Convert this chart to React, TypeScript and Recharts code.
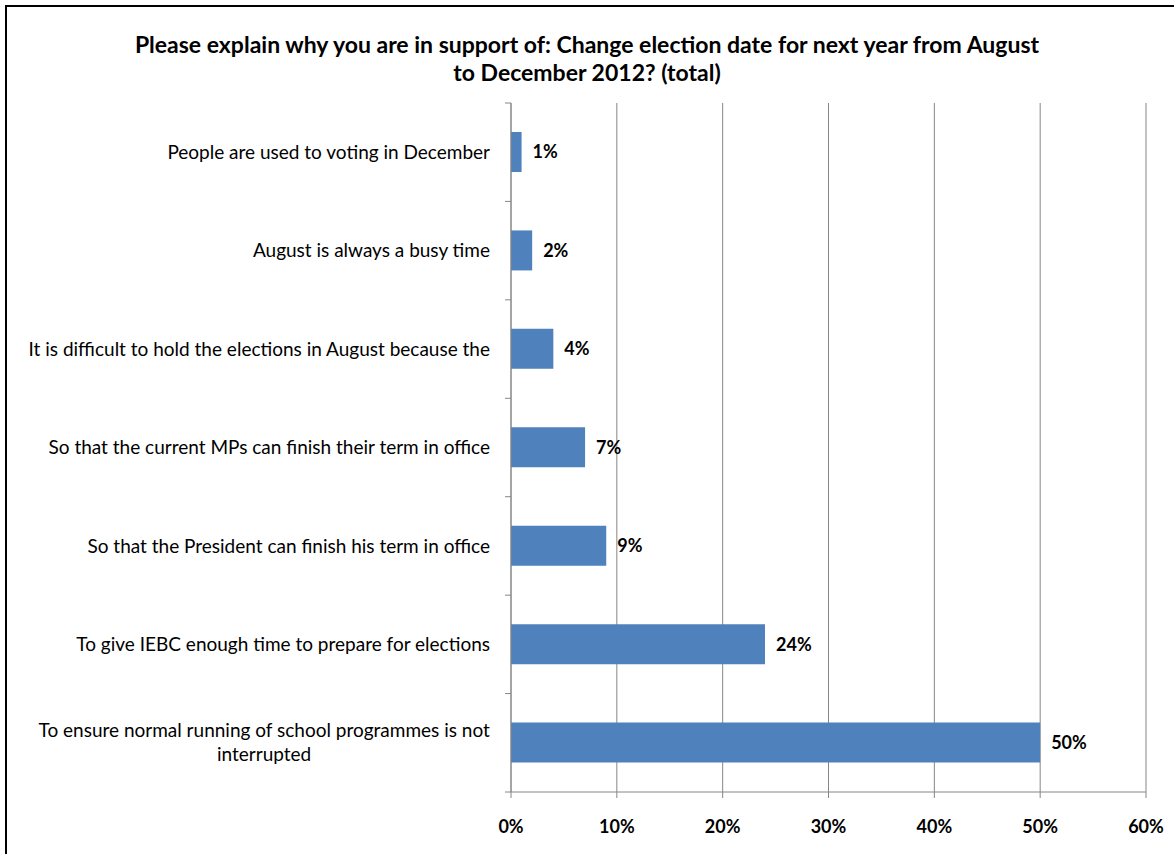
import React from "react";
import { BarChart, Bar, XAxis, YAxis, CartesianGrid, LabelList } from "recharts";

const categories = [
  "People are used to voting in December",
  "August is always a busy time",
  "It is difficult to hold the elections in August because the",
  "So that the current MPs can finish their term in office",
  "So that the President can finish his term in office",
  "To give IEBC enough time to prepare for elections",
  "To ensure normal running of school programmes is not interrupted",
];
const shares = [1, 2, 4, 7, 9, 24, 50];
const xTicks = [0, 10, 20, 30, 40, 50, 60];
const titleLines = [
  "Please explain why you are in support of: Change election date for next year from August",
  "to December 2012? (total)",
];

const data = categories.map((name, i) => ({ name, value: shares[i] }));

const FONT = "Lato, 'Liberation Sans', sans-serif";
const GRID = "#868686";
const BAR = "#4F81BD";
const W = 1174;
const H = 854;
const MARGIN = { top: 103, right: 28, left: 0, bottom: 22 };
const XAXIS_H = 40;
const YAXIS_W = 511;
const TICK = 6;
const TICK_GAP = 15;
const LABEL_SIZE = 19;
const BOLD_SIZE = 18;

let ctx: CanvasRenderingContext2D | null = null;
function measure(text: string): number {
  if (!ctx) ctx = document.createElement("canvas").getContext("2d");
  if (!ctx) return text.length * 8;
  ctx.font = `${LABEL_SIZE}px ${FONT}`;
  return ctx.measureText(text).width;
}

function wrap(text: string, maxWidth: number): string[] {
  const lines: string[] = [];
  let line = "";
  for (const w of text.split(" ")) {
    const test = line ? line + " " + w : w;
    if (line && measure(test) > maxWidth) {
      lines.push(line);
      line = w;
    } else line = test;
  }
  if (line) lines.push(line);
  return lines;
}

const CategoryTick = (props: any) => {
  const { x, y, payload, index } = props;
  const band = (H - MARGIN.top - MARGIN.bottom - XAXIS_H) / categories.length;
  const axisX = x + TICK + TICK_GAP;
  const lines = wrap(String(payload.value), 500);
  const lh = 24;
  const y0 = y - ((lines.length - 1) * lh) / 2;
  // multi-line labels are centred in a right-aligned block, like Excel
  const multi = lines.length > 1;
  const cx = multi ? x - Math.max(...lines.map(measure)) / 2 : x;
  return (
    <g>
      <line x1={axisX - TICK} x2={axisX} y1={y - band / 2} y2={y - band / 2} stroke={GRID} />
      {index === categories.length - 1 && (
        <line x1={axisX - TICK} x2={axisX} y1={y + band / 2} y2={y + band / 2} stroke={GRID} />
      )}
      <text
        x={cx}
        y={y0}
        textAnchor={multi ? "middle" : "end"}
        fontFamily={FONT}
        fontSize={LABEL_SIZE}
        fill="#000"
      >
        {lines.map((l, i) => (
          <tspan key={i} x={cx} dy={i === 0 ? "0.35em" : lh}>
            {l}
          </tspan>
        ))}
      </text>
    </g>
  );
};

export default function App() {
  return (
    <div style={{ position: "absolute", left: 0, top: 0, width: W, height: H, background: "#fff", overflow: "hidden" }}>
      <div
        style={{
          position: "absolute",
          left: 5,
          top: 5,
          width: W,
          height: H,
          borderLeft: "2px solid #000",
          borderTop: "2px solid #000",
        }}
      />
      <div
        style={{
          position: "absolute",
          left: 0,
          top: 30,
          width: W,
          textAlign: "center",
          fontFamily: FONT,
          fontWeight: 700,
          fontSize: 23,
          lineHeight: "28px",
          color: "#000",
        }}
      >
        {titleLines.map((t, i) => (
          <div key={i}>{t}</div>
        ))}
      </div>
      <div style={{ position: "absolute", left: 0, top: 0 }}>
        <BarChart width={W} height={H} data={data} layout="vertical" margin={MARGIN}>
          <CartesianGrid horizontal={false} vertical={true} stroke={GRID} />
          <XAxis
            type="number"
            domain={[0, 60]}
            ticks={xTicks}
            tickFormatter={(v) => `${v}%`}
            height={XAXIS_H}
            tickSize={TICK}
            tickMargin={22}
            axisLine={{ stroke: GRID }}
            tickLine={{ stroke: GRID }}
            tick={{ fontFamily: FONT, fontSize: BOLD_SIZE, fontWeight: 700, fill: "#000" }}
            interval={0}
          />
          <YAxis
            type="category"
            dataKey="name"
            width={YAXIS_W}
            tickSize={TICK}
            tickMargin={TICK_GAP}
            tickLine={false}
            axisLine={{ stroke: GRID }}
            tick={<CategoryTick />}
            interval={0}
          />
          <Bar dataKey="value" fill={BAR} barSize={40} isAnimationActive={false}>
            <LabelList
              dataKey="value"
              position="right"
              offset={11}
              formatter={(v: any) => `${v}%`}
              style={{ fontFamily: FONT, fontSize: BOLD_SIZE, fontWeight: 700, fill: "#000" }}
            />
          </Bar>
        </BarChart>
      </div>
    </div>
  );
}
